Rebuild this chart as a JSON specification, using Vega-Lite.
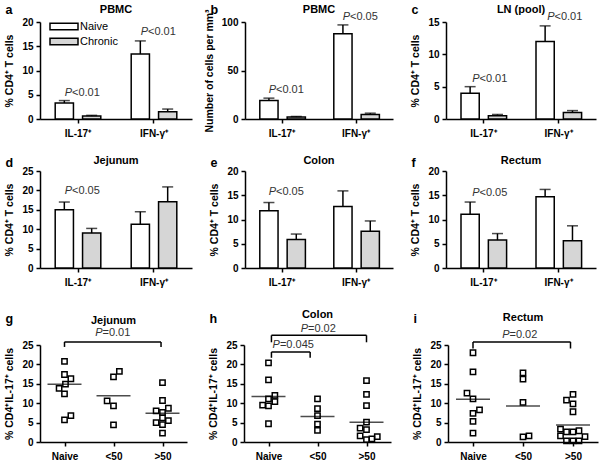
{
  "$schema": "https://vega.github.io/schema/vega-lite/v6.json",
  "padding": {"left": 4, "top": 3, "right": 2, "bottom": 2},
  "config": {
    "font": "Liberation Sans",
    "view": {"stroke": null},
    "axis": {
      "domainColor": "black", "domainWidth": 1.5,
      "tickColor": "black", "tickWidth": 1.5, "tickSize": 4,
      "labelColor": "black", "labelFontSize": 10, "labelFontWeight": "bold", "labelPadding": 3, "labelOverlap": false,
      "titleColor": "black", "titleFontSize": 10.5, "titleFontWeight": "bold", "titlePadding": 7,
      "grid": false
    },
    "axisX": {"labelAngle": 0, "labelPadding": 5, "titleAngle": 0, "titleAlign": "left", "titleBaseline": "alphabetic", "titleX": -35, "titleFontSize": 12.5},
    "title": {"fontSize": 11, "fontWeight": "bold", "color": "black", "baseline": "alphabetic", "offset": -10}
  },
  "spacing": 22,
  "resolve": {"scale": {"fill": "independent"}, "legend": {"fill": "independent"}},
  "vconcat": [
    {
      "columns": 3,
      "bounds": "flush",
      "spacing": {"row": 52, "column": 53},
      "resolve": {"scale": {"fill": "independent"}, "legend": {"fill": "independent"}},
      "concat": [
        {
          "width": 152, "height": 97,
          "title": {"text": "PBMC", "offset": -12},
          "data": {"values": [
            {"cytokine": "IL-17⁺", "group": "Naive", "value": 3.3, "upper": 3.8},
            {"cytokine": "IL-17⁺", "group": "Chronic", "value": 0.6, "upper": 0.75},
            {"cytokine": "IFN-γ⁺", "group": "Naive", "value": 13.4, "upper": 16.1},
            {"cytokine": "IFN-γ⁺", "group": "Chronic", "value": 1.5, "upper": 2.05}
          ]},
          "encoding": {"x": {"field": "cytokine", "type": "nominal", "sort": ["IL-17⁺", "IFN-γ⁺"], "title": "a", "axis": {"titleY": -106}, "scale": {"paddingInner": 0.4, "paddingOuter": 0.2}}},
          "layer": [
            {
              "mark": {"type": "bar", "stroke": "black", "strokeWidth": 1.5},
              "encoding": {
                "xOffset": {"field": "group", "type": "nominal", "sort": ["Naive", "Chronic"], "scale": {"paddingInner": 0.333, "paddingOuter": 0}},
                "y": {"field": "value", "type": "quantitative", "title": "% CD4⁺ T cells", "scale": {"domain": [0, 20], "nice": false}, "axis": {"values": [0, 5, 10, 15, 20], "labelOverlap": false}},
                "fill": {"field": "group", "type": "nominal", "sort": ["Naive", "Chronic"], "scale": {"domain": ["Naive", "Chronic"], "range": ["white", "#d6d6d6"]},
                  "legend": {"title": null, "orient": "none", "legendX": 18.5, "legendY": -1, "symbolType": "M-3.5,-0.8H3.5V0.8H-3.5Z", "symbolSize": 64, "symbolStrokeColor": "black", "symbolStrokeWidth": 1.5, "labelFontSize": 11, "labelFontWeight": "normal", "labelColor": "black", "labelOffset": 10.5, "rowPadding": 2, "padding": 0}}
              }
            },
            {
              "mark": {"type": "rule", "color": "black", "strokeWidth": 1.5},
              "encoding": {
                "xOffset": {"field": "group", "type": "nominal", "sort": ["Naive", "Chronic"]},
                "y": {"field": "value", "type": "quantitative", "title": "% CD4⁺ T cells", "axis": {"values": [0, 5, 10, 15, 20], "labelOverlap": false}},
                "y2": {"field": "upper"}
              }
            },
            {
              "mark": {"type": "tick", "color": "black", "thickness": 1.5, "size": 11},
              "encoding": {
                "xOffset": {"field": "group", "type": "nominal", "sort": ["Naive", "Chronic"]},
                "y": {"field": "upper", "type": "quantitative", "title": "% CD4⁺ T cells", "axis": {"values": [0, 5, 10, 15, 20], "labelOverlap": false}}
              }
            },
            {
              "data": {"values": [
                {"cytokine": "IL-17⁺", "py": 5.4, "p": "<0.01"},
                {"cytokine": "IFN-γ⁺", "py": 17.9, "p": "<0.01"}
              ]},
              "layer": [
                {"mark": {"type": "text", "text": "P", "fontStyle": "italic", "align": "right", "dx": -6, "fontSize": 11, "color": "#333"},
                 "encoding": {"y": {"field": "py", "type": "quantitative", "title": "% CD4⁺ T cells", "axis": {"values": [0, 5, 10, 15, 20], "labelOverlap": false}}}},
                {"mark": {"type": "text", "align": "left", "dx": -6, "fontSize": 11, "color": "#333"},
                 "encoding": {"y": {"field": "py", "type": "quantitative", "title": "% CD4⁺ T cells", "axis": {"values": [0, 5, 10, 15, 20], "labelOverlap": false}}, "text": {"field": "p"}}}
              ]
            }
          ]
        },
        {
          "width": 148, "height": 97,
          "title": {"text": "PBMC", "offset": -12},
          "data": {"values": [
            {"cytokine": "IL-17⁺", "group": "Naive", "value": 19, "upper": 21.5},
            {"cytokine": "IL-17⁺", "group": "Chronic", "value": 2, "upper": 2.6},
            {"cytokine": "IFN-γ⁺", "group": "Naive", "value": 88, "upper": 97},
            {"cytokine": "IFN-γ⁺", "group": "Chronic", "value": 4.7, "upper": 6}
          ]},
          "encoding": {"x": {"field": "cytokine", "type": "nominal", "sort": ["IL-17⁺", "IFN-γ⁺"], "title": "b", "axis": {"titleY": -106}, "scale": {"paddingInner": 0.4, "paddingOuter": 0.2}}},
          "layer": [
            {
              "mark": {"type": "bar", "stroke": "black", "strokeWidth": 1.5},
              "encoding": {
                "xOffset": {"field": "group", "type": "nominal", "sort": ["Naive", "Chronic"], "scale": {"paddingInner": 0.333, "paddingOuter": 0}},
                "y": {"field": "value", "type": "quantitative", "title": "Number of cells per mm³", "scale": {"domain": [0, 100], "nice": false}, "axis": {"values": [0, 50, 100], "labelOverlap": false}},
                "fill": {"condition": {"test": "datum.group === 'Naive'", "value": "white"}, "value": "#d6d6d6"}
              }
            },
            {
              "mark": {"type": "rule", "color": "black", "strokeWidth": 1.5},
              "encoding": {
                "xOffset": {"field": "group", "type": "nominal", "sort": ["Naive", "Chronic"]},
                "y": {"field": "value", "type": "quantitative", "title": "Number of cells per mm³", "axis": {"values": [0, 50, 100], "labelOverlap": false}},
                "y2": {"field": "upper"}
              }
            },
            {
              "mark": {"type": "tick", "color": "black", "thickness": 1.5, "size": 11},
              "encoding": {
                "xOffset": {"field": "group", "type": "nominal", "sort": ["Naive", "Chronic"]},
                "y": {"field": "upper", "type": "quantitative", "title": "Number of cells per mm³", "axis": {"values": [0, 50, 100], "labelOverlap": false}}
              }
            },
            {
              "data": {"values": [
                {"cytokine": "IL-17⁺", "py": 29.5, "p": "<0.01"},
                {"cytokine": "IFN-γ⁺", "py": 105, "p": "<0.05"}
              ]},
              "layer": [
                {"mark": {"type": "text", "text": "P", "fontStyle": "italic", "align": "right", "dx": -6, "fontSize": 11, "color": "#333"},
                 "encoding": {"y": {"field": "py", "type": "quantitative", "title": "Number of cells per mm³", "axis": {"values": [0, 50, 100], "labelOverlap": false}}}},
                {"mark": {"type": "text", "align": "left", "dx": -6, "fontSize": 11, "color": "#333"},
                 "encoding": {"y": {"field": "py", "type": "quantitative", "title": "Number of cells per mm³", "axis": {"values": [0, 50, 100], "labelOverlap": false}}, "text": {"field": "p"}}}
              ]
            }
          ]
        },
        {
          "width": 150, "height": 97,
          "title": {"text": "LN (pool)", "offset": -12},
          "data": {"values": [
            {"cytokine": "IL-17⁺", "group": "Naive", "value": 4.0, "upper": 5.0},
            {"cytokine": "IL-17⁺", "group": "Chronic", "value": 0.5, "upper": 0.7},
            {"cytokine": "IFN-γ⁺", "group": "Naive", "value": 12.0, "upper": 14.4},
            {"cytokine": "IFN-γ⁺", "group": "Chronic", "value": 1.0, "upper": 1.3}
          ]},
          "encoding": {"x": {"field": "cytokine", "type": "nominal", "sort": ["IL-17⁺", "IFN-γ⁺"], "title": "c", "axis": {"titleY": -106}, "scale": {"paddingInner": 0.4, "paddingOuter": 0.2}}},
          "layer": [
            {
              "mark": {"type": "bar", "stroke": "black", "strokeWidth": 1.5},
              "encoding": {
                "xOffset": {"field": "group", "type": "nominal", "sort": ["Naive", "Chronic"], "scale": {"paddingInner": 0.333, "paddingOuter": 0}},
                "y": {"field": "value", "type": "quantitative", "title": "% CD4⁺ T cells", "scale": {"domain": [0, 15], "nice": false}, "axis": {"values": [0, 5, 10, 15], "labelOverlap": false}},
                "fill": {"condition": {"test": "datum.group === 'Naive'", "value": "white"}, "value": "#d6d6d6"}
              }
            },
            {
              "mark": {"type": "rule", "color": "black", "strokeWidth": 1.5},
              "encoding": {
                "xOffset": {"field": "group", "type": "nominal", "sort": ["Naive", "Chronic"]},
                "y": {"field": "value", "type": "quantitative", "title": "% CD4⁺ T cells", "axis": {"values": [0, 5, 10, 15], "labelOverlap": false}},
                "y2": {"field": "upper"}
              }
            },
            {
              "mark": {"type": "tick", "color": "black", "thickness": 1.5, "size": 11},
              "encoding": {
                "xOffset": {"field": "group", "type": "nominal", "sort": ["Naive", "Chronic"]},
                "y": {"field": "upper", "type": "quantitative", "title": "% CD4⁺ T cells", "axis": {"values": [0, 5, 10, 15], "labelOverlap": false}}
              }
            },
            {
              "data": {"values": [
                {"cytokine": "IL-17⁺", "py": 6.2, "p": "<0.01"},
                {"cytokine": "IFN-γ⁺", "py": 15.8, "p": "<0.01"}
              ]},
              "layer": [
                {"mark": {"type": "text", "text": "P", "fontStyle": "italic", "align": "right", "dx": -4, "fontSize": 11, "color": "#333"},
                 "encoding": {"y": {"field": "py", "type": "quantitative", "title": "% CD4⁺ T cells", "axis": {"values": [0, 5, 10, 15], "labelOverlap": false}}}},
                {"mark": {"type": "text", "align": "left", "dx": -4, "fontSize": 11, "color": "#333"},
                 "encoding": {"y": {"field": "py", "type": "quantitative", "title": "% CD4⁺ T cells", "axis": {"values": [0, 5, 10, 15], "labelOverlap": false}}, "text": {"field": "p"}}}
              ]
            }
          ]
        },
        {
          "width": 152, "height": 97,
          "title": {"text": "Jejunum"},
          "data": {"values": [
            {"cytokine": "IL-17⁺", "group": "Naive", "value": 15.0, "upper": 17.0},
            {"cytokine": "IL-17⁺", "group": "Chronic", "value": 9.0, "upper": 10.2},
            {"cytokine": "IFN-γ⁺", "group": "Naive", "value": 11.3, "upper": 14.5},
            {"cytokine": "IFN-γ⁺", "group": "Chronic", "value": 17.1, "upper": 20.9}
          ]},
          "encoding": {"x": {"field": "cytokine", "type": "nominal", "sort": ["IL-17⁺", "IFN-γ⁺"], "title": "d", "axis": {"titleY": -102}, "scale": {"paddingInner": 0.4, "paddingOuter": 0.2}}},
          "layer": [
            {
              "mark": {"type": "bar", "stroke": "black", "strokeWidth": 1.5},
              "encoding": {
                "xOffset": {"field": "group", "type": "nominal", "sort": ["Naive", "Chronic"], "scale": {"paddingInner": 0.333, "paddingOuter": 0}},
                "y": {"field": "value", "type": "quantitative", "title": "% CD4⁺ T cells", "scale": {"domain": [0, 25], "nice": false}, "axis": {"values": [0, 5, 10, 15, 20, 25], "labelOverlap": false}},
                "fill": {"condition": {"test": "datum.group === 'Naive'", "value": "white"}, "value": "#d6d6d6"}
              }
            },
            {
              "mark": {"type": "rule", "color": "black", "strokeWidth": 1.5},
              "encoding": {
                "xOffset": {"field": "group", "type": "nominal", "sort": ["Naive", "Chronic"]},
                "y": {"field": "value", "type": "quantitative", "title": "% CD4⁺ T cells", "axis": {"values": [0, 5, 10, 15, 20, 25], "labelOverlap": false}},
                "y2": {"field": "upper"}
              }
            },
            {
              "mark": {"type": "tick", "color": "black", "thickness": 1.5, "size": 11},
              "encoding": {
                "xOffset": {"field": "group", "type": "nominal", "sort": ["Naive", "Chronic"]},
                "y": {"field": "upper", "type": "quantitative", "title": "% CD4⁺ T cells", "axis": {"values": [0, 5, 10, 15, 20, 25], "labelOverlap": false}}
              }
            },
            {
              "data": {"values": [{"cytokine": "IL-17⁺", "py": 19.8, "p": "<0.05"}]},
              "layer": [
                {"mark": {"type": "text", "text": "P", "fontStyle": "italic", "align": "right", "dx": -6, "fontSize": 11, "color": "#333"},
                 "encoding": {"y": {"field": "py", "type": "quantitative", "title": "% CD4⁺ T cells", "axis": {"values": [0, 5, 10, 15, 20, 25], "labelOverlap": false}}}},
                {"mark": {"type": "text", "align": "left", "dx": -6, "fontSize": 11, "color": "#333"},
                 "encoding": {"y": {"field": "py", "type": "quantitative", "title": "% CD4⁺ T cells", "axis": {"values": [0, 5, 10, 15, 20, 25], "labelOverlap": false}}, "text": {"field": "p"}}}
              ]
            }
          ]
        },
        {
          "width": 148, "height": 97,
          "title": {"text": "Colon"},
          "data": {"values": [
            {"cytokine": "IL-17⁺", "group": "Naive", "value": 11.8, "upper": 13.5},
            {"cytokine": "IL-17⁺", "group": "Chronic", "value": 5.9, "upper": 7.0},
            {"cytokine": "IFN-γ⁺", "group": "Naive", "value": 12.7, "upper": 15.9},
            {"cytokine": "IFN-γ⁺", "group": "Chronic", "value": 7.6, "upper": 9.7}
          ]},
          "encoding": {"x": {"field": "cytokine", "type": "nominal", "sort": ["IL-17⁺", "IFN-γ⁺"], "title": "e", "axis": {"titleY": -102}, "scale": {"paddingInner": 0.4, "paddingOuter": 0.2}}},
          "layer": [
            {
              "mark": {"type": "bar", "stroke": "black", "strokeWidth": 1.5},
              "encoding": {
                "xOffset": {"field": "group", "type": "nominal", "sort": ["Naive", "Chronic"], "scale": {"paddingInner": 0.333, "paddingOuter": 0}},
                "y": {"field": "value", "type": "quantitative", "title": "% CD4⁺ T cells", "scale": {"domain": [0, 20], "nice": false}, "axis": {"values": [0, 5, 10, 15, 20], "labelOverlap": false}},
                "fill": {"condition": {"test": "datum.group === 'Naive'", "value": "white"}, "value": "#d6d6d6"}
              }
            },
            {
              "mark": {"type": "rule", "color": "black", "strokeWidth": 1.5},
              "encoding": {
                "xOffset": {"field": "group", "type": "nominal", "sort": ["Naive", "Chronic"]},
                "y": {"field": "value", "type": "quantitative", "title": "% CD4⁺ T cells", "axis": {"values": [0, 5, 10, 15, 20], "labelOverlap": false}},
                "y2": {"field": "upper"}
              }
            },
            {
              "mark": {"type": "tick", "color": "black", "thickness": 1.5, "size": 11},
              "encoding": {
                "xOffset": {"field": "group", "type": "nominal", "sort": ["Naive", "Chronic"]},
                "y": {"field": "upper", "type": "quantitative", "title": "% CD4⁺ T cells", "axis": {"values": [0, 5, 10, 15, 20], "labelOverlap": false}}
              }
            },
            {
              "data": {"values": [{"cytokine": "IL-17⁺", "py": 15.7, "p": "<0.05"}]},
              "layer": [
                {"mark": {"type": "text", "text": "P", "fontStyle": "italic", "align": "right", "dx": -6, "fontSize": 11, "color": "#333"},
                 "encoding": {"y": {"field": "py", "type": "quantitative", "title": "% CD4⁺ T cells", "axis": {"values": [0, 5, 10, 15, 20], "labelOverlap": false}}}},
                {"mark": {"type": "text", "align": "left", "dx": -6, "fontSize": 11, "color": "#333"},
                 "encoding": {"y": {"field": "py", "type": "quantitative", "title": "% CD4⁺ T cells", "axis": {"values": [0, 5, 10, 15, 20], "labelOverlap": false}}, "text": {"field": "p"}}}
              ]
            }
          ]
        },
        {
          "width": 150, "height": 97,
          "title": {"text": "Rectum"},
          "data": {"values": [
            {"cytokine": "IL-17⁺", "group": "Naive", "value": 11.1, "upper": 13.6},
            {"cytokine": "IL-17⁺", "group": "Chronic", "value": 5.75, "upper": 7.1},
            {"cytokine": "IFN-γ⁺", "group": "Naive", "value": 14.7, "upper": 16.2},
            {"cytokine": "IFN-γ⁺", "group": "Chronic", "value": 5.6, "upper": 8.7}
          ]},
          "encoding": {"x": {"field": "cytokine", "type": "nominal", "sort": ["IL-17⁺", "IFN-γ⁺"], "title": "f", "axis": {"titleY": -102}, "scale": {"paddingInner": 0.4, "paddingOuter": 0.2}}},
          "layer": [
            {
              "mark": {"type": "bar", "stroke": "black", "strokeWidth": 1.5},
              "encoding": {
                "xOffset": {"field": "group", "type": "nominal", "sort": ["Naive", "Chronic"], "scale": {"paddingInner": 0.333, "paddingOuter": 0}},
                "y": {"field": "value", "type": "quantitative", "title": "% CD4⁺ T cells", "scale": {"domain": [0, 20], "nice": false}, "axis": {"values": [0, 5, 10, 15, 20], "labelOverlap": false}},
                "fill": {"condition": {"test": "datum.group === 'Naive'", "value": "white"}, "value": "#d6d6d6"}
              }
            },
            {
              "mark": {"type": "rule", "color": "black", "strokeWidth": 1.5},
              "encoding": {
                "xOffset": {"field": "group", "type": "nominal", "sort": ["Naive", "Chronic"]},
                "y": {"field": "value", "type": "quantitative", "title": "% CD4⁺ T cells", "axis": {"values": [0, 5, 10, 15, 20], "labelOverlap": false}},
                "y2": {"field": "upper"}
              }
            },
            {
              "mark": {"type": "tick", "color": "black", "thickness": 1.5, "size": 11},
              "encoding": {
                "xOffset": {"field": "group", "type": "nominal", "sort": ["Naive", "Chronic"]},
                "y": {"field": "upper", "type": "quantitative", "title": "% CD4⁺ T cells", "axis": {"values": [0, 5, 10, 15, 20], "labelOverlap": false}}
              }
            },
            {
              "data": {"values": [{"cytokine": "IL-17⁺", "py": 15.5, "p": "<0.05"}]},
              "layer": [
                {"mark": {"type": "text", "text": "P", "fontStyle": "italic", "align": "right", "dx": -4, "fontSize": 11, "color": "#333"},
                 "encoding": {"y": {"field": "py", "type": "quantitative", "title": "% CD4⁺ T cells", "axis": {"values": [0, 5, 10, 15, 20], "labelOverlap": false}}}},
                {"mark": {"type": "text", "align": "left", "dx": -4, "fontSize": 11, "color": "#333"},
                 "encoding": {"y": {"field": "py", "type": "quantitative", "title": "% CD4⁺ T cells", "axis": {"values": [0, 5, 10, 15, 20], "labelOverlap": false}}, "text": {"field": "p"}}}
              ]
            }
          ]
        }
      ]
    },
    {
      "bounds": "flush",
      "spacing": 57,
      "hconcat": [
        {
          "width": 147, "height": 97,
          "title": {"text": "Jejunum", "offset": -14},
          "layer": [
            {
              "data": {"values": [
                {"pos": 1.0, "value": 20.8}, {"pos": 1.0, "value": 17.4}, {"pos": 1.13, "value": 16.3}, {"pos": 1.02, "value": 14.9},
                {"pos": 0.89, "value": 13.8}, {"pos": 1.0, "value": 12.4}, {"pos": 1.0, "value": 5.7}, {"pos": 1.13, "value": 6.8},
                {"pos": 2.0, "value": 16.8}, {"pos": 2.12, "value": 18.2}, {"pos": 1.87, "value": 10.6}, {"pos": 2.0, "value": 9.3}, {"pos": 2.0, "value": 4.4},
                {"pos": 3.0, "value": 15.3}, {"pos": 3.0, "value": 10.7}, {"pos": 2.87, "value": 8.0}, {"pos": 3.12, "value": 8.7}, {"pos": 3.0, "value": 7.6},
                {"pos": 3.0, "value": 6.2}, {"pos": 2.87, "value": 5.0}, {"pos": 3.12, "value": 5.5}, {"pos": 3.0, "value": 4.5}, {"pos": 3.0, "value": 2.3}
              ]},
              "mark": {"type": "point", "shape": "square", "filled": false, "size": 28, "strokeWidth": 1.5, "color": "black", "opacity": 1},
              "encoding": {
                "x": {"field": "pos", "type": "quantitative", "title": "g", "scale": {"domain": [0.5, 3.5], "nice": false, "zero": false}, "axis": {"values": [1, 2, 3], "titleY": -120, "labelExpr": "datum.value == 1 ? 'Naive' : datum.value == 2 ? '<50' : '>50'"}},
                "y": {"field": "value", "type": "quantitative", "title": "% CD4⁺IL-17⁺ cells", "scale": {"domain": [0, 25], "nice": false}, "axis": {"values": [0, 5, 10, 15, 20, 25], "labelOverlap": false}}
              }
            },
            {
              "data": {"values": [{"pos": 1, "median": 14.9}, {"pos": 2, "median": 11.9}, {"pos": 3, "median": 7.4}]},
              "mark": {"type": "tick", "orient": "horizontal", "size": 34, "thickness": 1.5, "color": "black"},
              "encoding": {
                "x": {"field": "pos", "type": "quantitative", "title": "g", "axis": {"values": [1, 2, 3], "titleY": -120, "labelExpr": "datum.value == 1 ? 'Naive' : datum.value == 2 ? '<50' : '>50'"}},
                "y": {"field": "median", "type": "quantitative", "title": "% CD4⁺IL-17⁺ cells", "axis": {"values": [0, 5, 10, 15, 20, 25], "labelOverlap": false}}
              }
            },
            {
              "data": {"values": [{"start": 1.0, "end": 2.97, "top": 25.8, "bottom": 24.5, "mid": 2.0, "ty": 28.2, "p": "=0.01"}]},
              "layer": [
                {"mark": {"type": "rule", "color": "black", "strokeWidth": 1.5},
                 "encoding": {"x": {"field": "start", "type": "quantitative", "title": "g", "axis": {"values": [1, 2, 3], "titleY": -120, "labelExpr": "datum.value == 1 ? 'Naive' : datum.value == 2 ? '<50' : '>50'"}}, "x2": {"field": "end"}, "y": {"field": "top", "type": "quantitative", "title": "% CD4⁺IL-17⁺ cells", "axis": {"values": [0, 5, 10, 15, 20, 25], "labelOverlap": false}}}},
                {"mark": {"type": "rule", "color": "black", "strokeWidth": 1.5},
                 "encoding": {"x": {"field": "start", "type": "quantitative", "title": "g", "axis": {"values": [1, 2, 3], "titleY": -120, "labelExpr": "datum.value == 1 ? 'Naive' : datum.value == 2 ? '<50' : '>50'"}}, "y": {"field": "top", "type": "quantitative", "title": "% CD4⁺IL-17⁺ cells", "axis": {"values": [0, 5, 10, 15, 20, 25], "labelOverlap": false}}, "y2": {"field": "bottom"}}},
                {"mark": {"type": "rule", "color": "black", "strokeWidth": 1.5},
                 "encoding": {"x": {"field": "end", "type": "quantitative", "title": "g", "axis": {"values": [1, 2, 3], "titleY": -120, "labelExpr": "datum.value == 1 ? 'Naive' : datum.value == 2 ? '<50' : '>50'"}}, "y": {"field": "top", "type": "quantitative", "title": "% CD4⁺IL-17⁺ cells", "axis": {"values": [0, 5, 10, 15, 20, 25], "labelOverlap": false}}, "y2": {"field": "bottom"}}},
                {"mark": {"type": "text", "text": "P", "fontStyle": "italic", "align": "right", "dx": -11, "fontSize": 11, "color": "#333"},
                 "encoding": {"x": {"field": "mid", "type": "quantitative", "title": "g", "axis": {"values": [1, 2, 3], "titleY": -120, "labelExpr": "datum.value == 1 ? 'Naive' : datum.value == 2 ? '<50' : '>50'"}}, "y": {"field": "ty", "type": "quantitative", "title": "% CD4⁺IL-17⁺ cells", "axis": {"values": [0, 5, 10, 15, 20, 25], "labelOverlap": false}}}},
                {"mark": {"type": "text", "align": "left", "dx": -11, "fontSize": 11, "color": "#333"},
                 "encoding": {"x": {"field": "mid", "type": "quantitative", "title": "g", "axis": {"values": [1, 2, 3], "titleY": -120, "labelExpr": "datum.value == 1 ? 'Naive' : datum.value == 2 ? '<50' : '>50'"}}, "y": {"field": "ty", "type": "quantitative", "title": "% CD4⁺IL-17⁺ cells", "axis": {"values": [0, 5, 10, 15, 20, 25], "labelOverlap": false}}, "text": {"field": "p"}}}
              ]
            }
          ]
        },
        {
          "width": 147, "height": 97,
          "title": {"text": "Colon", "offset": -8},
          "layer": [
            {
              "data": {"values": [
                {"pos": 1.0, "value": 20.4}, {"pos": 1.0, "value": 16.0}, {"pos": 1.13, "value": 12.0}, {"pos": 1.0, "value": 11.1},
                {"pos": 1.13, "value": 10.4}, {"pos": 0.88, "value": 9.5}, {"pos": 1.0, "value": 9.3}, {"pos": 1.0, "value": 4.7},
                {"pos": 2.0, "value": 11.1}, {"pos": 2.0, "value": 8.6}, {"pos": 2.0, "value": 6.8}, {"pos": 2.0, "value": 4.6}, {"pos": 2.0, "value": 3.0},
                {"pos": 3.0, "value": 15.8}, {"pos": 3.0, "value": 12.3}, {"pos": 3.0, "value": 9.4}, {"pos": 3.0, "value": 5.1}, {"pos": 2.87, "value": 3.6},
                {"pos": 3.0, "value": 3.2}, {"pos": 2.87, "value": 1.6}, {"pos": 3.0, "value": 0.6}, {"pos": 3.11, "value": 0.8}, {"pos": 3.22, "value": 1.4}
              ]},
              "mark": {"type": "point", "shape": "square", "filled": false, "size": 28, "strokeWidth": 1.5, "color": "black", "opacity": 1},
              "encoding": {
                "x": {"field": "pos", "type": "quantitative", "title": "h", "scale": {"domain": [0.5, 3.5], "nice": false, "zero": false}, "axis": {"values": [1, 2, 3], "titleY": -120, "labelExpr": "datum.value == 1 ? 'Naive' : datum.value == 2 ? '<50' : '>50'"}},
                "y": {"field": "value", "type": "quantitative", "title": "% CD4⁺IL-17⁺ cells", "scale": {"domain": [0, 25], "nice": false}, "axis": {"values": [0, 5, 10, 15, 20, 25], "labelOverlap": false}}
              }
            },
            {
              "data": {"values": [{"pos": 1, "median": 11.7}, {"pos": 2, "median": 6.6}, {"pos": 3, "median": 5.1}]},
              "mark": {"type": "tick", "orient": "horizontal", "size": 34, "thickness": 1.5, "color": "black"},
              "encoding": {
                "x": {"field": "pos", "type": "quantitative", "title": "h", "axis": {"values": [1, 2, 3], "titleY": -120, "labelExpr": "datum.value == 1 ? 'Naive' : datum.value == 2 ? '<50' : '>50'"}},
                "y": {"field": "median", "type": "quantitative", "title": "% CD4⁺IL-17⁺ cells", "axis": {"values": [0, 5, 10, 15, 20, 25], "labelOverlap": false}}
              }
            },
            {
              "data": {"values": [
                {"start": 1.06, "end": 3.0, "top": 27.5, "bottom": 25.7},
                {"start": 1.06, "end": 1.85, "top": 23.2, "bottom": 21.7}
              ]},
              "layer": [
                {"mark": {"type": "rule", "color": "black", "strokeWidth": 1.5},
                 "encoding": {"x": {"field": "start", "type": "quantitative", "title": "h", "axis": {"values": [1, 2, 3], "titleY": -120, "labelExpr": "datum.value == 1 ? 'Naive' : datum.value == 2 ? '<50' : '>50'"}}, "x2": {"field": "end"}, "y": {"field": "top", "type": "quantitative", "title": "% CD4⁺IL-17⁺ cells", "axis": {"values": [0, 5, 10, 15, 20, 25], "labelOverlap": false}}}},
                {"mark": {"type": "rule", "color": "black", "strokeWidth": 1.5},
                 "encoding": {"x": {"field": "start", "type": "quantitative", "title": "h", "axis": {"values": [1, 2, 3], "titleY": -120, "labelExpr": "datum.value == 1 ? 'Naive' : datum.value == 2 ? '<50' : '>50'"}}, "y": {"field": "top", "type": "quantitative", "title": "% CD4⁺IL-17⁺ cells", "axis": {"values": [0, 5, 10, 15, 20, 25], "labelOverlap": false}}, "y2": {"field": "bottom"}}},
                {"mark": {"type": "rule", "color": "black", "strokeWidth": 1.5},
                 "encoding": {"x": {"field": "end", "type": "quantitative", "title": "h", "axis": {"values": [1, 2, 3], "titleY": -120, "labelExpr": "datum.value == 1 ? 'Naive' : datum.value == 2 ? '<50' : '>50'"}}, "y": {"field": "top", "type": "quantitative", "title": "% CD4⁺IL-17⁺ cells", "axis": {"values": [0, 5, 10, 15, 20, 25], "labelOverlap": false}}, "y2": {"field": "bottom"}}}
              ]
            },
            {
              "data": {"values": [{"mid": 2.03, "ty": 29.2, "p": "=0.02"}]},
              "layer": [
                {"mark": {"type": "text", "text": "P", "fontStyle": "italic", "align": "right", "dx": -11, "fontSize": 11, "color": "#333"},
                 "encoding": {"x": {"field": "mid", "type": "quantitative", "title": "h", "axis": {"values": [1, 2, 3], "titleY": -120, "labelExpr": "datum.value == 1 ? 'Naive' : datum.value == 2 ? '<50' : '>50'"}}, "y": {"field": "ty", "type": "quantitative", "title": "% CD4⁺IL-17⁺ cells", "axis": {"values": [0, 5, 10, 15, 20, 25], "labelOverlap": false}}}},
                {"mark": {"type": "text", "align": "left", "dx": -11, "fontSize": 11, "color": "#333"},
                 "encoding": {"x": {"field": "mid", "type": "quantitative", "title": "h", "axis": {"values": [1, 2, 3], "titleY": -120, "labelExpr": "datum.value == 1 ? 'Naive' : datum.value == 2 ? '<50' : '>50'"}}, "y": {"field": "ty", "type": "quantitative", "title": "% CD4⁺IL-17⁺ cells", "axis": {"values": [0, 5, 10, 15, 20, 25], "labelOverlap": false}}, "text": {"field": "p"}}}
              ]
            },
            {
              "data": {"values": [{"mid": 1.06, "ty": 25.0, "p": "=0.045"}]},
              "layer": [
                {"mark": {"type": "text", "text": "P", "fontStyle": "italic", "align": "left", "dx": 1, "fontSize": 11, "color": "#333"},
                 "encoding": {"x": {"field": "mid", "type": "quantitative", "title": "h", "axis": {"values": [1, 2, 3], "titleY": -120, "labelExpr": "datum.value == 1 ? 'Naive' : datum.value == 2 ? '<50' : '>50'"}}, "y": {"field": "ty", "type": "quantitative", "title": "% CD4⁺IL-17⁺ cells", "axis": {"values": [0, 5, 10, 15, 20, 25], "labelOverlap": false}}}},
                {"mark": {"type": "text", "align": "left", "dx": 8.5, "fontSize": 11, "color": "#333"},
                 "encoding": {"x": {"field": "mid", "type": "quantitative", "title": "h", "axis": {"values": [1, 2, 3], "titleY": -120, "labelExpr": "datum.value == 1 ? 'Naive' : datum.value == 2 ? '<50' : '>50'"}}, "y": {"field": "ty", "type": "quantitative", "title": "% CD4⁺IL-17⁺ cells", "axis": {"values": [0, 5, 10, 15, 20, 25], "labelOverlap": false}}, "text": {"field": "p"}}}
              ]
            }
          ]
        },
        {
          "width": 150, "height": 97,
          "title": {"text": "Rectum", "offset": -11},
          "layer": [
            {
              "data": {"values": [
                {"pos": 1.0, "value": 23.0}, {"pos": 1.0, "value": 18.1}, {"pos": 0.88, "value": 12.6}, {"pos": 1.0, "value": 11.1},
                {"pos": 1.13, "value": 8.3}, {"pos": 1.0, "value": 7.4}, {"pos": 1.0, "value": 5.3}, {"pos": 1.0, "value": 2.3},
                {"pos": 2.0, "value": 17.8}, {"pos": 2.0, "value": 16.2}, {"pos": 2.0, "value": 10.2}, {"pos": 2.0, "value": 1.3}, {"pos": 2.12, "value": 1.6},
                {"pos": 3.0, "value": 12.3}, {"pos": 2.87, "value": 10.8}, {"pos": 3.0, "value": 9.8}, {"pos": 3.0, "value": 7.8},
                {"pos": 2.75, "value": 3.3}, {"pos": 2.87, "value": 2.6}, {"pos": 3.0, "value": 2.6}, {"pos": 3.12, "value": 2.9},
                {"pos": 2.75, "value": 1.6}, {"pos": 2.87, "value": 0.3}, {"pos": 3.0, "value": 0.3}, {"pos": 3.12, "value": 0.3}, {"pos": 3.24, "value": 1.4}
              ]},
              "mark": {"type": "point", "shape": "square", "filled": false, "size": 28, "strokeWidth": 1.5, "color": "black", "opacity": 1},
              "encoding": {
                "x": {"field": "pos", "type": "quantitative", "title": "i", "scale": {"domain": [0.5, 3.5], "nice": false, "zero": false}, "axis": {"values": [1, 2, 3], "titleY": -120, "labelExpr": "datum.value == 1 ? 'Naive' : datum.value == 2 ? '<50' : '>50'"}},
                "y": {"field": "value", "type": "quantitative", "title": "% CD4⁺IL-17⁺ cells", "scale": {"domain": [0, 25], "nice": false}, "axis": {"values": [0, 5, 10, 15, 20, 25], "labelOverlap": false}}
              }
            },
            {
              "data": {"values": [{"pos": 1, "median": 11.0}, {"pos": 2, "median": 9.3}, {"pos": 3, "median": 4.4}]},
              "mark": {"type": "tick", "orient": "horizontal", "size": 34, "thickness": 1.5, "color": "black"},
              "encoding": {
                "x": {"field": "pos", "type": "quantitative", "title": "i", "axis": {"values": [1, 2, 3], "titleY": -120, "labelExpr": "datum.value == 1 ? 'Naive' : datum.value == 2 ? '<50' : '>50'"}},
                "y": {"field": "median", "type": "quantitative", "title": "% CD4⁺IL-17⁺ cells", "axis": {"values": [0, 5, 10, 15, 20, 25], "labelOverlap": false}}
              }
            },
            {
              "data": {"values": [{"start": 1.0, "end": 2.95, "top": 25.8, "bottom": 24.1, "mid": 1.95, "ty": 27.6, "p": "=0.02"}]},
              "layer": [
                {"mark": {"type": "rule", "color": "black", "strokeWidth": 1.5},
                 "encoding": {"x": {"field": "start", "type": "quantitative", "title": "i", "axis": {"values": [1, 2, 3], "titleY": -120, "labelExpr": "datum.value == 1 ? 'Naive' : datum.value == 2 ? '<50' : '>50'"}}, "x2": {"field": "end"}, "y": {"field": "top", "type": "quantitative", "title": "% CD4⁺IL-17⁺ cells", "axis": {"values": [0, 5, 10, 15, 20, 25], "labelOverlap": false}}}},
                {"mark": {"type": "rule", "color": "black", "strokeWidth": 1.5},
                 "encoding": {"x": {"field": "start", "type": "quantitative", "title": "i", "axis": {"values": [1, 2, 3], "titleY": -120, "labelExpr": "datum.value == 1 ? 'Naive' : datum.value == 2 ? '<50' : '>50'"}}, "y": {"field": "top", "type": "quantitative", "title": "% CD4⁺IL-17⁺ cells", "axis": {"values": [0, 5, 10, 15, 20, 25], "labelOverlap": false}}, "y2": {"field": "bottom"}}},
                {"mark": {"type": "rule", "color": "black", "strokeWidth": 1.5},
                 "encoding": {"x": {"field": "end", "type": "quantitative", "title": "i", "axis": {"values": [1, 2, 3], "titleY": -120, "labelExpr": "datum.value == 1 ? 'Naive' : datum.value == 2 ? '<50' : '>50'"}}, "y": {"field": "top", "type": "quantitative", "title": "% CD4⁺IL-17⁺ cells", "axis": {"values": [0, 5, 10, 15, 20, 25], "labelOverlap": false}}, "y2": {"field": "bottom"}}},
                {"mark": {"type": "text", "text": "P", "fontStyle": "italic", "align": "right", "dx": -11, "fontSize": 11, "color": "#333"},
                 "encoding": {"x": {"field": "mid", "type": "quantitative", "title": "i", "axis": {"values": [1, 2, 3], "titleY": -120, "labelExpr": "datum.value == 1 ? 'Naive' : datum.value == 2 ? '<50' : '>50'"}}, "y": {"field": "ty", "type": "quantitative", "title": "% CD4⁺IL-17⁺ cells", "axis": {"values": [0, 5, 10, 15, 20, 25], "labelOverlap": false}}}},
                {"mark": {"type": "text", "align": "left", "dx": -11, "fontSize": 11, "color": "#333"},
                 "encoding": {"x": {"field": "mid", "type": "quantitative", "title": "i", "axis": {"values": [1, 2, 3], "titleY": -120, "labelExpr": "datum.value == 1 ? 'Naive' : datum.value == 2 ? '<50' : '>50'"}}, "y": {"field": "ty", "type": "quantitative", "title": "% CD4⁺IL-17⁺ cells", "axis": {"values": [0, 5, 10, 15, 20, 25], "labelOverlap": false}}, "text": {"field": "p"}}}
              ]
            }
          ]
        }
      ]
    }
  ]
}
